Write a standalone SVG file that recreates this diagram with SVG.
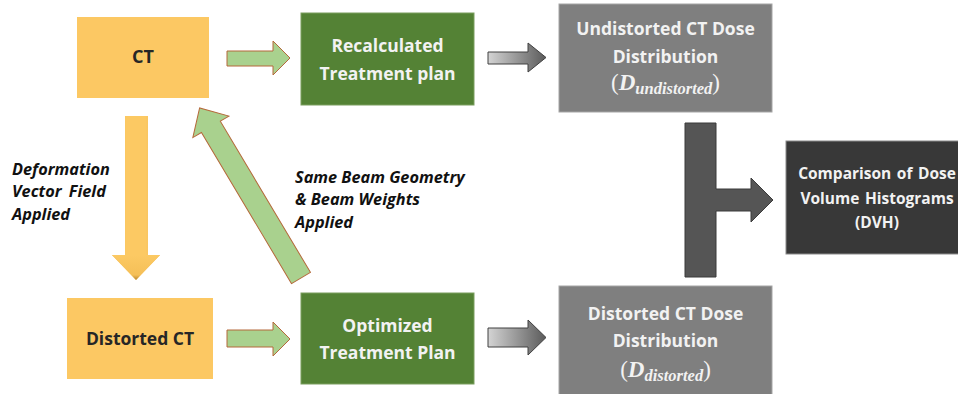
<svg xmlns="http://www.w3.org/2000/svg" width="958" height="394" viewBox="0 0 958 394">
<defs>
<linearGradient id="gray" x1="0" y1="0" x2="1" y2="0">
<stop offset="0" stop-color="#d4d4d4"/>
<stop offset="1" stop-color="#5a5a5a"/>
</linearGradient>
<linearGradient id="yel" x1="0" y1="0" x2="0" y2="1">
<stop offset="0" stop-color="#fcc963"/>
<stop offset="0.8" stop-color="#f5bf58"/>
<stop offset="1" stop-color="#b88632"/>
</linearGradient>
<linearGradient id="yelx" x1="0" y1="0" x2="1" y2="0">
<stop offset="0" stop-color="#eab452"/>
<stop offset="0.3" stop-color="#fcc963"/>
<stop offset="0.7" stop-color="#fcc963"/>
<stop offset="1" stop-color="#eab452"/>
</linearGradient>
</defs>
<style>
.yb{fill:#fcc863}
.gb{fill:#548235;stroke:#7a9e5e;stroke-width:1}
.db{fill:#7f7f7f;stroke:#a6a6a6;stroke-width:1}
.kb{fill:#383838;stroke:#8a8a8a;stroke-width:1}
.t{font-family:"Open Sans","Liberation Sans",sans-serif;font-weight:bold;text-anchor:middle;font-size:17.5px}
.ts{font-size:15.5px}
.tl{font-size:18px}
.tk{fill:#262626}
.tw{fill:#f2f2f2}
.lbl{font-family:"Open Sans","Liberation Sans",sans-serif;font-weight:bold;font-style:italic;font-size:16.3px;fill:#111}
.m{font-family:"Liberation Serif",serif;fill:#f2f2f2;text-anchor:middle;font-size:23px}
.mi{font-weight:bold;font-style:italic}
.ga{fill:#a9d18e;stroke:#b5683a;stroke-width:1}
.gr{fill:url(#gray);stroke:#404040;stroke-width:1}
</style>

<g id="connectors">
<path class="ga" d="M227,51 H273 V41 L290,58 L273,75 V66 H227 Z"/>
<path class="ga" d="M227,330 H273 V322 L290,339 L273,356 V347 H227 Z"/>
<path class="gr" d="M488,52 H528 V43 L546,57.5 L528,72 V64 H488 Z"/>
<path class="gr" d="M488,328 H528 V320 L546,337.5 L528,355 V347 H488 Z"/>
<path d="M125,116 H148 V255 H160 L136,280 L112,255 H125 Z" fill="url(#yelx)"/>
<path d="M112,255 H160 L136,280 Z" fill="url(#yel)"/>
<path class="ga" transform="translate(301,278) rotate(-120.8)" d="M0,-11 H176 V-21 L198,0 L176,21 V11 H0 Z"/>
<path d="M685,123 H716 V189 H751 V178 L773,200 L751,222 V211 H716 V277 H685 Z" fill="#555555" stroke="#3a3a3a" stroke-width="1"/>
</g>

<g id="ct">
<rect class="yb" x="77" y="17" width="132" height="81"/>
<text class="t tk tl" x="143" y="63">CT</text>
</g>

<g id="distorted-ct">
<rect class="yb" x="67" y="298" width="146" height="81"/>
<text class="t tk" x="140" y="345">Distorted CT</text>
</g>

<g id="recalculated">
<rect class="gb" x="301" y="13" width="173" height="92"/>
<text class="t tw" x="387.5" y="52">Recalculated</text>
<text class="t tw" x="387.5" y="80">Treatment plan</text>
</g>

<g id="optimized">
<rect class="gb" x="301" y="293" width="173" height="91"/>
<text class="t tw" x="387.5" y="332">Optimized</text>
<text class="t tw" x="387.5" y="359">Treatment Plan</text>
</g>

<g id="undistorted-dose">
<rect class="db" x="559" y="4" width="213" height="108"/>
<text class="t tw" x="665.5" y="35">Undistorted CT Dose</text>
<text class="t tw" x="665.5" y="63">Distribution</text>
<text class="m" x="665.5" y="90">(<tspan class="mi">D</tspan><tspan class="mi" font-size="16.5" dy="4">undistorted</tspan><tspan dy="-4">)</tspan></text>
</g>

<g id="distorted-dose">
<rect class="db" x="559" y="286" width="213" height="112"/>
<text class="t tw" x="665.5" y="320">Distorted CT Dose</text>
<text class="t tw" x="665.5" y="347">Distribution</text>
<text class="m" x="665.5" y="377">(<tspan class="mi">D</tspan><tspan class="mi" font-size="16.5" dy="4">distorted</tspan><tspan dy="-4">)</tspan></text>
</g>

<g id="comparison">
<rect class="kb" x="786" y="141" width="180" height="113"/>
<text class="t tw ts" x="877" y="179" word-spacing="1.5">Comparison of Dose</text>
<text class="t tw ts" x="877" y="204" word-spacing="1.5">Volume Histograms</text>
<text class="t tw ts" x="877" y="228">(DVH)</text>
</g>

<g id="label-deformation">
<text class="lbl" x="12" y="175">Deformation</text>
<text class="lbl" x="12" y="197" word-spacing="3">Vector Field</text>
<text class="lbl" x="12" y="220">Applied</text>
</g>

<g id="label-beam">
<text class="lbl" x="295" y="183">Same Beam Geometry</text>
<text class="lbl" x="295" y="205">&amp; Beam Weights</text>
<text class="lbl" x="295" y="228">Applied</text>
</g>
</svg>
